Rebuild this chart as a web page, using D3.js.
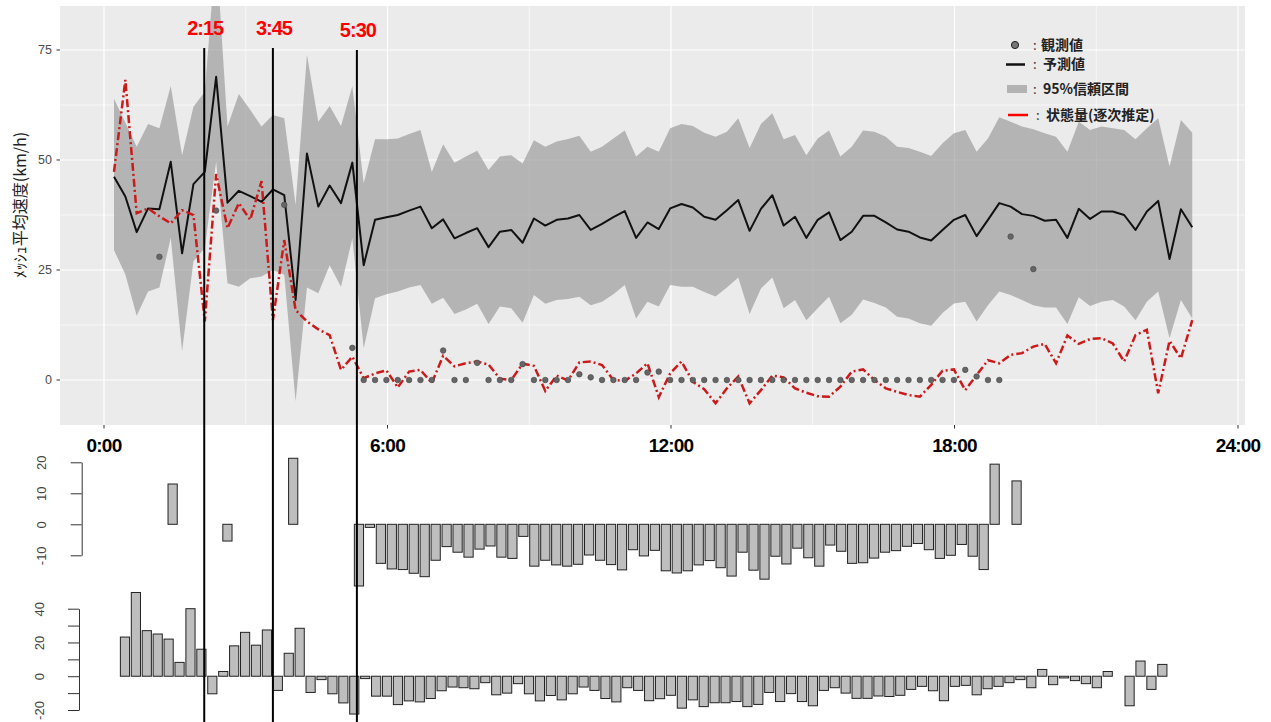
<!DOCTYPE html>
<html>
<head>
<meta charset="utf-8">
<script src="https://cdn.jsdelivr.net/npm/d3@7"></script>
<style>
body { margin:0; background:#fff; }
svg { display:block; }
</style>
</head>
<body>
<svg id="chart" width="1271" height="722"></svg>
<script>
// 15 minute slots: slot 0 = 0:15 ... slot 95 = 24:00
var predicted = [46.2, 41.7, 33.6, 39.0, 38.8, 49.6, 28.8, 44.5, 47.3, 68.9,
  40.3, 43.0, 41.8, 40.5, 43.3, 42.0, 18.2, 51.5, 39.4, 44.2,
  40.2, 49.4, 26.1, 36.4, 37.0, 37.5, 38.5, 39.4, 34.5, 36.5,
  32.2, 33.4, 34.5, 30.2, 33.7, 34.1, 31.2, 36.7, 35.1, 36.4,
  36.7, 37.5, 34.1, 35.5, 37.0, 38.4, 32.3, 35.8, 34.3, 39.0,
  40.0, 39.2, 37.1, 36.4, 38.6, 40.9, 33.9, 38.9, 42.0, 35.1,
  37.1, 32.3, 36.4, 38.1, 31.8, 33.7, 37.3, 37.3, 35.8, 34.2,
  33.7, 32.4, 31.7, 34.1, 36.4, 37.5, 32.7, 36.4, 40.2, 39.4,
  37.7, 37.3, 36.2, 36.4, 32.3, 38.9, 36.6, 38.3, 38.3, 37.5,
  34.1, 38.3, 40.7, 27.5, 38.8, 34.7];

var upper95 = [63.9, 58.5, 53.0, 58.2, 57.2, 66.8, 51.1, 62.1, 65.5, 98.0,
  57.6, 65.0, 61.4, 57.6, 60.2, 59.5, 39.8, 73.9, 58.7, 62.3,
  57.7, 66.8, 44.7, 54.7, 54.7, 54.9, 55.9, 56.8, 47.3, 53.6,
  49.4, 50.8, 52.1, 47.7, 50.8, 51.1, 49.2, 54.5, 53.0, 54.2,
  54.8, 55.5, 51.9, 53.0, 54.9, 56.7, 50.8, 53.0, 51.9, 57.2,
  58.2, 57.7, 56.2, 55.3, 56.4, 59.5, 52.7, 58.2, 60.6, 54.7,
  55.7, 51.1, 54.9, 56.7, 50.8, 53.0, 56.7, 56.4, 55.3, 53.0,
  52.7, 51.9, 50.9, 53.8, 56.1, 56.8, 51.9, 54.9, 59.7, 58.7,
  57.6, 57.0, 56.1, 55.3, 51.9, 58.7, 56.8, 57.6, 57.2, 56.8,
  54.7, 57.2, 59.5, 48.5, 59.1, 56.2];

var lower95 = [29.5, 24.0, 14.6, 20.1, 21.0, 32.3, 6.6, 27.0, 30.0, 49.6,
  22.0, 21.2, 23.1, 23.5, 25.0, 23.9, -4.9, 21.0, 19.7, 26.1,
  21.2, 32.2, 7.2, 18.6, 19.5, 20.1, 21.0, 21.6, 17.3, 18.7,
  15.0, 16.0, 17.3, 12.7, 16.7, 16.3, 13.0, 19.3, 17.3, 18.2,
  18.4, 18.9, 17.0, 17.8, 19.5, 21.6, 14.0, 17.8, 16.7, 21.6,
  21.2, 21.2, 20.0, 19.0, 21.0, 23.3, 15.0, 20.8, 23.3, 16.3,
  18.2, 13.6, 16.3, 18.9, 12.9, 14.8, 18.3, 17.5, 16.5, 14.4,
  14.0, 12.9, 12.3, 15.2, 17.4, 17.8, 13.3, 17.0, 20.1, 19.3,
  18.2, 17.0, 16.5, 16.5, 12.7, 18.8, 16.8, 17.8, 18.2, 16.7,
  13.6, 17.8, 20.1, 9.5, 18.2, 14.0];

var stateEst = [47.3, 68.2, 37.9, 39.0, 37.2, 35.6, 38.6, 37.5, 13.3, 46.8,
  34.5, 40.2, 36.4, 45.2, 13.6, 31.8, 15.9, 13.3, 11.5, 10.2,
  2.3, 5.3, 0.4, 1.5, 2.2, -1.7, 1.9, 2.3, -0.7, 5.5,
  3.1, 3.8, 4.2, 3.5, 0.3, 0, 3.7, 3.2, -2.5, 1.0,
  -0.1, 4.0, 4.2, 3.4, 0, -0.2, 1.5, 3.8, -3.9, 1.5,
  4.2, -0.4, -2.1, -5.3, -1.9, 0.8, -5.3, -2.3, 1.0, 0.6,
  -1.9, -2.9, -3.7, -3.8, -1.5, 1.9, 2.4, 0, -1.9, -2.7,
  -3.4, -3.8, -1.1, 2.1, 2.4, -2.3, 1.1, 4.5, 3.8, 5.7,
  6.1, 7.6, 8.2, 3.8, 10.1, 8.2, 9.3, 9.5, 8.3, 4.2,
  10.2, 11.4, -3.0, 8.9, 4.9, 13.6];

var observed = [null, null, null, null, 28.0, null, null, null, null, 38.5,
  null, null, null, null, null, 39.8, null, null, null, null,
  null, 7.3, 0, 0, 0, 0, 0, 0, 0, 6.7,
  0, 0, 3.9, 0, 0, 0, 3.6, 0, 0, 0,
  0, 1.3, 0.6, 0, 0, 0, 0, 1.7, 1.9, 0,
  0, 0, 0, 0, 0, 0, 0, 0, 0, 0,
  0, 0, 0, 0, 0, 0, 0, 0, 0, 0,
  0, 0, 0, 0, 0, 2.3, 0.8, 0, 0, 32.6,
  null, 25.2, null, null, null, null, null, null, null, null,
  null, null, null, null, null, null];

var residObs = [null, null, null, null, 13, null, null, null, null, -5.4,
  null, null, null, null, null, 21.3, null, null, null, null,
  null, -19.9, -1, -12.6, -14.4, -14.6, -15.8, -16.9, -11.6, -7.2,
  -9, -10.6, -8, -7, -10.6, -11, -3.9, -13.5, -11.6, -13.1,
  -13.5, -12.9, -9.9, -11.6, -13, -14.7, -8.2, -10.2, -8.4, -15,
  -15.7, -15, -13.1, -11.7, -14, -16.7, -9, -14.8, -17.7, -10.3,
  -12.8, -7.7, -10.8, -13.5, -6.7, -8.7, -12.6, -12.4, -10.9, -9,
  -8.5, -7.1, -6.2, -8.2, -11, -10, -6.5, -10.3, -14.6, 19.4,
  null, 14, null, null, null, null, null, null, null, null,
  null, null, null, null, null, null];

var residAll = [23.2, 49.6, 27, 25, 22, 8.2, 40, 16, -10.4, 2.8,
  18, 26, 18.4, 27.4, -8.4, 13.6, 28.4, -9.6, -2, -10.4,
  -15.8, -22.4, -1.4, -11.8, -11.8, -16.8, -14.6, -15.2, -13.2, -8.6,
  -6.4, -6.8, -7.4, -3.8, -11, -10, -4.4, -10.4, -14.6, -11.4,
  -14, -10.4, -6.4, -8.4, -13.2, -15.2, -6.8, -8.4, -14.5, -13.3,
  -11.3, -18.9, -14, -18, -15.7, -15.7, -15, -18, -16.7, -9.6,
  -15, -10.3, -15, -17.5, -8.4, -6.8, -10, -13.1, -13.1, -11.7,
  -12, -11.3, -7.8, -6, -8.6, -14.5, -6, -5.4, -11, -7.4,
  -6, -3.8, -2, -6.8, 4, -5, -1, -2.6, -4.4, -6.8,
  2.8, 0, -17.5, 9, -7.8, 7];

var hourTicks = [0, 6, 12, 18, 24];
var hourLabels = ["0:00", "6:00", "12:00", "18:00", "24:00"];
var speedTicks = [0, 25, 50, 75];
var markLabels = ["2:15", "3:45", "5:30"];
var markSlots = [7.95, 14.0, 21.4];
var legendKeys = ["観測値", "予測値", "95%信頼区間", "状態量(逐次推定)"];

var svg = d3.select("#chart");
svg.append("rect").attr("width", 1271).attr("height", 722).attr("fill", "#fff");

var xTime = d3.scaleLinear().domain([0, 24]).range([104, 1238]);
var xSlot = d3.scaleLinear().domain([0, 95]).range([114, 1192.25]);
var ySpeed = d3.scaleLinear().domain([-10.23, 85]).range([425, 6]);

function drawTop()
{
    svg.append("rect").attr("x", 60).attr("y", 6).attr("width", 1185).attr("height", 419)
        .attr("fill", "#ebebeb");

    svg.append("defs").append("clipPath").attr("id", "clipTop")
        .append("rect").attr("x", 60).attr("y", 6).attr("width", 1185).attr("height", 419);

    var grid = svg.append("g");
    grid.selectAll(".minorY").data(d3.range(12.5, 85, 25)).enter().append("line")
        .attr("x1", 60).attr("x2", 1245)
        .attr("y1", function(d){ return ySpeed(d); }).attr("y2", function(d){ return ySpeed(d); })
        .attr("stroke", "#fff").attr("stroke-width", 0.6);
    grid.selectAll(".majorY").data(speedTicks).enter().append("line")
        .attr("x1", 60).attr("x2", 1245)
        .attr("y1", function(d){ return ySpeed(d); }).attr("y2", function(d){ return ySpeed(d); })
        .attr("stroke", "#fff").attr("stroke-width", 1.2);
    grid.selectAll(".minorX").data(d3.range(3, 24, 6)).enter().append("line")
        .attr("y1", 6).attr("y2", 425)
        .attr("x1", function(d){ return xTime(d); }).attr("x2", function(d){ return xTime(d); })
        .attr("stroke", "#fff").attr("stroke-width", 0.6);
    grid.selectAll(".majorX").data(hourTicks).enter().append("line")
        .attr("y1", 6).attr("y2", 425)
        .attr("x1", function(d){ return xTime(d); }).attr("x2", function(d){ return xTime(d); })
        .attr("stroke", "#fff").attr("stroke-width", 1.2);

    var plot = svg.append("g").attr("clip-path", "url(#clipTop)");

    var band = d3.area()
        .x(function(d, i){ return xSlot(i); })
        .y0(function(d, i){ return ySpeed(lower95[i]); })
        .y1(function(d, i){ return ySpeed(upper95[i]); });
    plot.append("path").datum(predicted).attr("d", band)
        .attr("fill", "#8f8f8f").attr("fill-opacity", 0.6);

    var line = d3.line()
        .x(function(d, i){ return xSlot(i); })
        .y(function(d){ return ySpeed(d); });

    plot.append("path").datum(predicted).attr("d", line)
        .attr("fill", "none").attr("stroke", "#111").attr("stroke-width", 2)
        .attr("stroke-linejoin", "round");

    plot.append("path").datum(stateEst).attr("d", line)
        .attr("fill", "none").attr("stroke", "#cc1a1a").attr("stroke-width", 2.5)
        .attr("stroke-dasharray", "8,3,2,3");

    var pts = observed.map(function(v, i){ return {i: i, v: v}; })
        .filter(function(d){ return d.v !== null; });
    plot.selectAll(".obs").data(pts).enter().append("circle")
        .attr("cx", function(d){ return xSlot(d.i); })
        .attr("cy", function(d){ return ySpeed(d.v); })
        .attr("r", 2.8)
        .attr("fill", "#666").attr("stroke", "#444").attr("stroke-width", 0.6);

    // y axis
    svg.selectAll(".yTick").data(speedTicks).enter().append("line")
        .attr("x1", 56.5).attr("x2", 60)
        .attr("y1", function(d){ return ySpeed(d); }).attr("y2", function(d){ return ySpeed(d); })
        .attr("stroke", "#333");
    svg.selectAll(".yLab").data(speedTicks).enter().append("text")
        .text(function(d){ return d; })
        .attr("x", 52).attr("y", function(d){ return ySpeed(d); })
        .attr("dy", "0.35em").attr("text-anchor", "end")
        .attr("font-family", "Liberation Sans, Arial, sans-serif").attr("font-size", 12.5)
        .attr("fill", "#4d4d4d");

    svg.append("text").text("ﾒｯｼｭ平均速度(km/h)")
        .attr("transform", "translate(20,205) rotate(-90)")
        .attr("text-anchor", "middle").attr("dy", "0.35em")
        .attr("font-family", "Noto Sans CJK JP, sans-serif").attr("font-size", 16)
        .attr("fill", "#222");

    // x axis
    svg.selectAll(".xTick").data(hourTicks).enter().append("line")
        .attr("x1", function(d){ return xTime(d); }).attr("x2", function(d){ return xTime(d); })
        .attr("y1", 425).attr("y2", 428.5)
        .attr("stroke", "#333");
    svg.selectAll(".xLab").data(hourTicks).enter().append("text")
        .text(function(d, i){ return hourLabels[i]; })
        .attr("x", function(d){ return xTime(d); }).attr("y", 452)
        .attr("text-anchor", "middle")
        .attr("font-family", "Liberation Sans, Arial, sans-serif").attr("font-size", 19)
        .attr("font-weight", "bold").attr("letter-spacing", -0.8)
        .attr("fill", "#000");
}

function legend()
{
    var rows = [45, 64.5, 89, 115];
    var lg = svg.append("g");

    lg.append("circle").attr("cx", 1015).attr("cy", rows[0]).attr("r", 3.6)
        .attr("fill", "#777").attr("stroke", "#222").attr("stroke-width", 1);
    lg.append("line").attr("x1", 1006).attr("x2", 1025).attr("y1", rows[1]).attr("y2", rows[1])
        .attr("stroke", "#111").attr("stroke-width", 2.5);
    lg.append("rect").attr("x", 1007).attr("y", rows[2] - 4).attr("width", 20).attr("height", 8)
        .attr("fill", "#b3b3b3");
    lg.append("line").attr("x1", 1008).attr("x2", 1028).attr("y1", rows[3]).attr("y2", rows[3])
        .attr("stroke", "#ff0000").attr("stroke-width", 2.5);

    lg.selectAll(".colon").data(legendKeys).enter().append("text")
        .text(":")
        .attr("x", function(d, i){ return i == 3 ? 1036 : 1033; })
        .attr("y", function(d, i){ return rows[i]; })
        .attr("dy", "0.35em")
        .attr("font-family", "Noto Sans CJK JP, sans-serif").attr("font-size", 13)
        .attr("fill", "#333");

    lg.selectAll(".key").data(legendKeys).enter().append("text")
        .text(function(d){ return d; })
        .attr("x", function(d, i){ return i == 0 ? 1041 : (i == 3 ? 1046 : 1043); })
        .attr("y", function(d, i){ return rows[i]; })
        .attr("dy", "0.35em")
        .attr("font-family", "Noto Sans CJK JP, sans-serif").attr("font-size", 14)
        .attr("font-weight", "bold")
        .attr("fill", "#222");
}

function barPanel(values, x, y, axisX, ticks, labelEvery)
{
    var g = svg.append("g");
    var items = values.map(function(v, i){ return {i: i, v: v}; })
        .filter(function(d){ return d.v !== null; });

    g.selectAll("rect").data(items).enter().append("rect")
        .attr("x", function(d){ return x(d.i); })
        .attr("width", x.bandwidth())
        .attr("y", function(d){ return y(Math.max(0, d.v)); })
        .attr("height", function(d){ return Math.abs(y(d.v) - y(0)); })
        .attr("fill", "#bebebe").attr("stroke", "#222").attr("stroke-width", 1);

    var axis = d3.axisLeft(y).tickValues(ticks).tickSize(11).tickSizeOuter(0)
        .tickFormat(function(d){ return d % labelEvery == 0 ? d : ""; });
    var ax = g.append("g").attr("transform", "translate(" + axisX + ",0)").call(axis);
    ax.select(".domain").attr("stroke", "#333");
    ax.selectAll(".tick line").attr("stroke", "#333");
    ax.selectAll(".tick text")
        .attr("transform", "rotate(-90)")
        .attr("x", 0).attr("y", -40).attr("dy", "0.35em")
        .attr("text-anchor", "middle")
        .attr("font-family", "Liberation Sans, Arial, sans-serif").attr("font-size", 13)
        .attr("fill", "#444");
}

function markers()
{
    var g = svg.append("g");
    g.selectAll("line").data(markSlots).enter().append("line")
        .attr("x1", function(d){ return xSlot(d); }).attr("x2", function(d){ return xSlot(d); })
        .attr("y1", function(d, i){ return i == 2 ? 50 : 48; }).attr("y2", 722)
        .attr("stroke", "#000").attr("stroke-width", 2);
    g.selectAll("text").data(markSlots).enter().append("text")
        .text(function(d, i){ return markLabels[i]; })
        .attr("x", function(d){ return xSlot(d) + 1; })
        .attr("y", function(d, i){ return i == 2 ? 37 : 35; })
        .attr("text-anchor", "middle")
        .attr("font-family", "Liberation Sans, Arial, sans-serif").attr("font-size", 20)
        .attr("font-weight", "bold").attr("letter-spacing", -1)
        .attr("fill", "#ff0000");
}

drawTop();
legend();

var xMid = d3.scaleBand().domain(d3.range(96)).range([123.3, 1175.5]).paddingInner(0.16).paddingOuter(0.08);
var yMid = d3.scaleLinear().domain([-10, 20]).range([555.3, 462.3]);
barPanel(residObs, xMid, yMid, 81.7, [-10, 0, 10, 20], 10);

var xBot = d3.scaleBand().domain(d3.range(96)).range([119.5, 1167.8]).paddingInner(0.16).paddingOuter(0.08);
var yBot = d3.scaleLinear().domain([-20, 40]).range([710, 608.7]);
barPanel(residAll, xBot, yBot, 79, [-20, -10, 0, 10, 20, 30, 40], 20);

markers();
</script>
</body>
</html>
